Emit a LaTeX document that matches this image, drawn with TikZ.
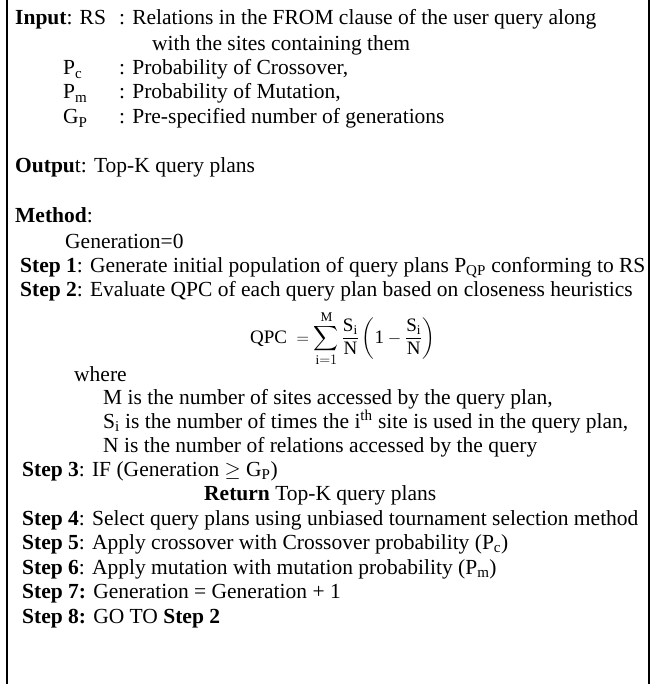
\documentclass[tikz,border=0pt]{standalone}
\usepackage{amsmath}
\usepackage{fontspec}
\setmainfont{Liberation Serif}
\begin{document}
\begin{tikzpicture}[x=1pt,y=1pt,
  txt/.style={anchor=base west,inner sep=0pt,font=\fontsize{21.5}{24}\selectfont}]
\useasboundingbox (0,0) rectangle (651,-684);
\draw[line width=1.6pt] (7,0) -- (7,-684);
\draw[line width=1.6pt] (649,0) -- (649,-684);

% input
\node[txt] (inp) at (15,-25) {\textbf{Input}: RS};
\node[txt] (inprs) at (119,-25) {: Relations in the FROM clause of the user query along};
\node[txt] (inprs2) at (152,-51) {with the sites containing them};
\node[txt] (pc) at (63,-75) {P\textsubscript{c}};
\node[txt] (pcd) at (119,-75) {: Probability of Crossover,};
\node[txt] (pm) at (63,-99) {P\textsubscript{m}};
\node[txt] (pmd) at (119,-99) {: Probability of Mutation,};
\node[txt] (gp) at (63,-124) {G\textsubscript{P}};
\node[txt] (gpd) at (119,-124) {: Pre-specified number of generations};

% output and method
\node[txt] (out) at (15,-173) {\textbf{Outpu}t: Top-K query plans};
\node[txt] (meth) at (15,-223) {\textbf{Method}:};
\node[txt] (gen0) at (65,-248) {Generation=0};
\node[txt] (s1) at (20,-272) {\textbf{Step 1}: Generate initial population of query plans P\textsubscript{QP} conforming to RS};
\node[txt] (s2) at (20,-296) {\textbf{Step 2}: Evaluate QPC of each query plan based on closeness heuristics};
\node[txt,font=\fontsize{19}{22}\selectfont] (qpc) at (250,-343) {QPC $\;=\displaystyle\sum_{\mathrm{i}=1}^{\mathrm{M}}\frac{\mathrm{S}_\mathrm{i}}{\mathrm{N}}\left(\mathrm{1}-\frac{\mathrm{S}_\mathrm{i}}{\mathrm{N}}\right)$};
\node[txt] (where) at (74,-381) {where};
\node[txt] (wm) at (103,-404) {M is the number of sites accessed by the query plan,};
\node[txt] (ws) at (103,-428) {S\textsubscript{i} is the number of times the i\textsuperscript{th} site is used in the query plan,};
\node[txt] (wn) at (103,-452) {N is the number of relations accessed by the query};
\node[txt] (s3) at (22,-476) {\textbf{Step 3}: IF (Generation $\geq$ G\textsubscript{P})};
\node[txt] (ret) at (204,-500) {\textbf{Return} Top-K query plans};
\node[txt] (s4) at (22,-525) {\textbf{Step 4}: Select query plans using unbiased tournament selection method};
\node[txt] (s5) at (22,-549) {\textbf{Step 5}: Apply crossover with Crossover probability (P\textsubscript{c})};
\node[txt] (s6) at (22,-574) {\textbf{Step 6}: Apply mutation with mutation probability (P\textsubscript{m})};
\node[txt] (s7) at (22,-598) {\textbf{Step 7:} Generation = Generation + 1};
\node[txt] (s8) at (22,-623) {\textbf{Step 8:} GO TO \textbf{Step 2}};
\end{tikzpicture}
\end{document}
